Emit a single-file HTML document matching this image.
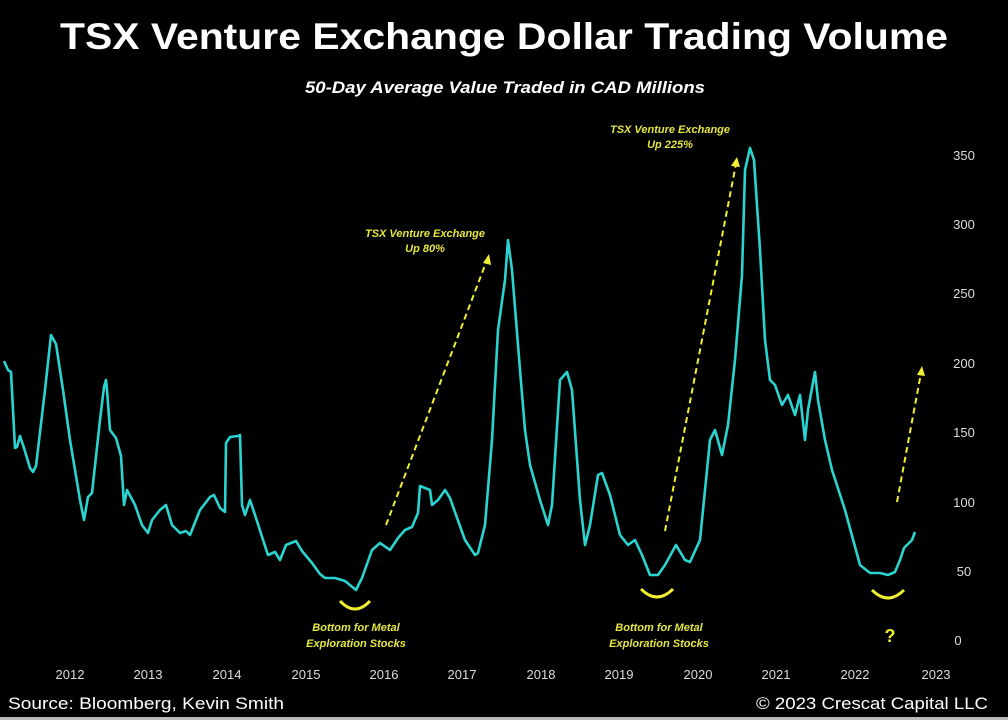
<!DOCTYPE html>
<html><head><meta charset="utf-8"><style>
html,body{margin:0;padding:0;background:#000;}
body{width:1008px;height:720px;overflow:hidden;position:relative;font-family:"Liberation Sans",sans-serif;}
svg{position:absolute;left:0;top:0}
</style></head><body>
<svg width="1008" height="720" viewBox="0 0 1008 720">
<rect width="1008" height="720" fill="#000"/>
<rect x="0" y="717" width="1008" height="3" fill="#bbb"/>
<text x="60" y="49" fill="#fff" font-size="37" font-weight="bold" textLength="888" lengthAdjust="spacingAndGlyphs">TSX Venture Exchange Dollar Trading Volume</text>
<text x="305" y="93" fill="#fff" font-size="17" font-weight="bold" font-style="italic" textLength="400" lengthAdjust="spacingAndGlyphs">50-Day Average Value Traded in CAD Millions</text>
<g fill="#ddd" font-size="13" text-anchor="middle">
<text x="964" y="160">350</text><text x="964" y="229">300</text><text x="964" y="298">250</text>
<text x="964" y="368">200</text><text x="964" y="437">150</text><text x="964" y="507">100</text>
<text x="964" y="576">50</text><text x="958" y="645">0</text>
</g>
<g fill="#ddd" font-size="13" text-anchor="middle">
<text x="70" y="679">2012</text><text x="148" y="679">2013</text><text x="227" y="679">2014</text>
<text x="306" y="679">2015</text><text x="384" y="679">2016</text><text x="462" y="679">2017</text>
<text x="541" y="679">2018</text><text x="619" y="679">2019</text><text x="698" y="679">2020</text>
<text x="776" y="679">2021</text><text x="855" y="679">2022</text><text x="936" y="679">2023</text>
</g>
<text x="8" y="709" fill="#fff" font-size="17" textLength="276" lengthAdjust="spacingAndGlyphs">Source: Bloomberg, Kevin Smith</text>
<text x="756" y="709" fill="#fff" font-size="17" textLength="232" lengthAdjust="spacingAndGlyphs">© 2023 Crescat Capital LLC</text>
<polyline fill="none" stroke="#2ad4d0" stroke-width="2.6" stroke-linejoin="round" points="4,361 8,370 11,372 15,448 17,447 20,436 24,448 30,468 33,472 36,466 45,390 51,335 56,344 63,390 70,440 80,500 84,520 88,497 92,493 100,420 104,387 106,380 107,390 110,430 116,438 121,456 124,505 127,490 135,505 142,525 148,533 152,520 160,510 166,505 172,525 180,533 186,531 190,535 200,510 210,497 214,495 220,508 225,512 226,443 230,437 238,436 240,435 242,505 245,515 250,500 256,518 265,546 268,555 275,552 280,560 286,545 296,541 302,551 312,563 320,574 325,578 335,578 345,581 356,590 362,578 372,550 380,543 390,550 398,538 405,530 412,527 418,513 420,486 425,488 430,490 432,505 438,500 445,490 450,498 456,515 465,540 475,555 478,553 485,525 492,440 498,330 505,280 508,240 512,270 520,370 525,430 530,465 540,500 548,525 552,505 560,380 567,372 572,390 580,500 585,545 590,525 598,475 602,473 610,495 620,535 628,545 635,540 642,555 650,575 658,575 665,565 676,545 685,560 690,562 700,540 706,480 710,440 715,430 722,455 728,425 735,360 742,275 745,170 750,148 754,160 760,250 765,340 770,380 775,385 782,405 788,395 795,415 800,395 805,440 808,410 812,388 815,372 818,400 825,440 832,470 845,510 860,565 870,573 880,573 888,575 895,572 900,560 904,548 912,540 915,532"/>
<g stroke="#f0f030" stroke-width="2" stroke-dasharray="6,4" fill="none">
<line x1="386" y1="525" x2="487" y2="260"/>
<line x1="665" y1="531" x2="736" y2="164"/>
<line x1="897" y1="502" x2="921" y2="373"/>
</g>
<g fill="#f0f030">
<polygon points="489,254 483,263 491,265"/>
<polygon points="737,157 731,166 740,167"/>
<polygon points="922,366 917,375 925,376"/>
</g>
<g stroke="#f0f030" stroke-width="3" fill="none">
<path d="M340,601 Q355,617 370,601"/>
<path d="M641,589 Q657,605 673,589"/>
<path d="M872,590 Q888,606 904,590"/>
</g>
<g fill="#e6e640" font-size="11" font-weight="bold" font-style="italic" text-anchor="middle">
<text x="425" y="237">TSX Venture Exchange</text><text x="425" y="252">Up 80%</text>
<text x="670" y="133">TSX Venture Exchange</text><text x="670" y="148">Up 225%</text>
<text x="356" y="631">Bottom for Metal</text><text x="356" y="647">Exploration Stocks</text>
<text x="659" y="631">Bottom for Metal</text><text x="659" y="647">Exploration Stocks</text>
</g>
<text x="890" y="642" fill="#f0f030" font-size="18" font-weight="bold" text-anchor="middle">?</text>
</svg>
</body></html>
